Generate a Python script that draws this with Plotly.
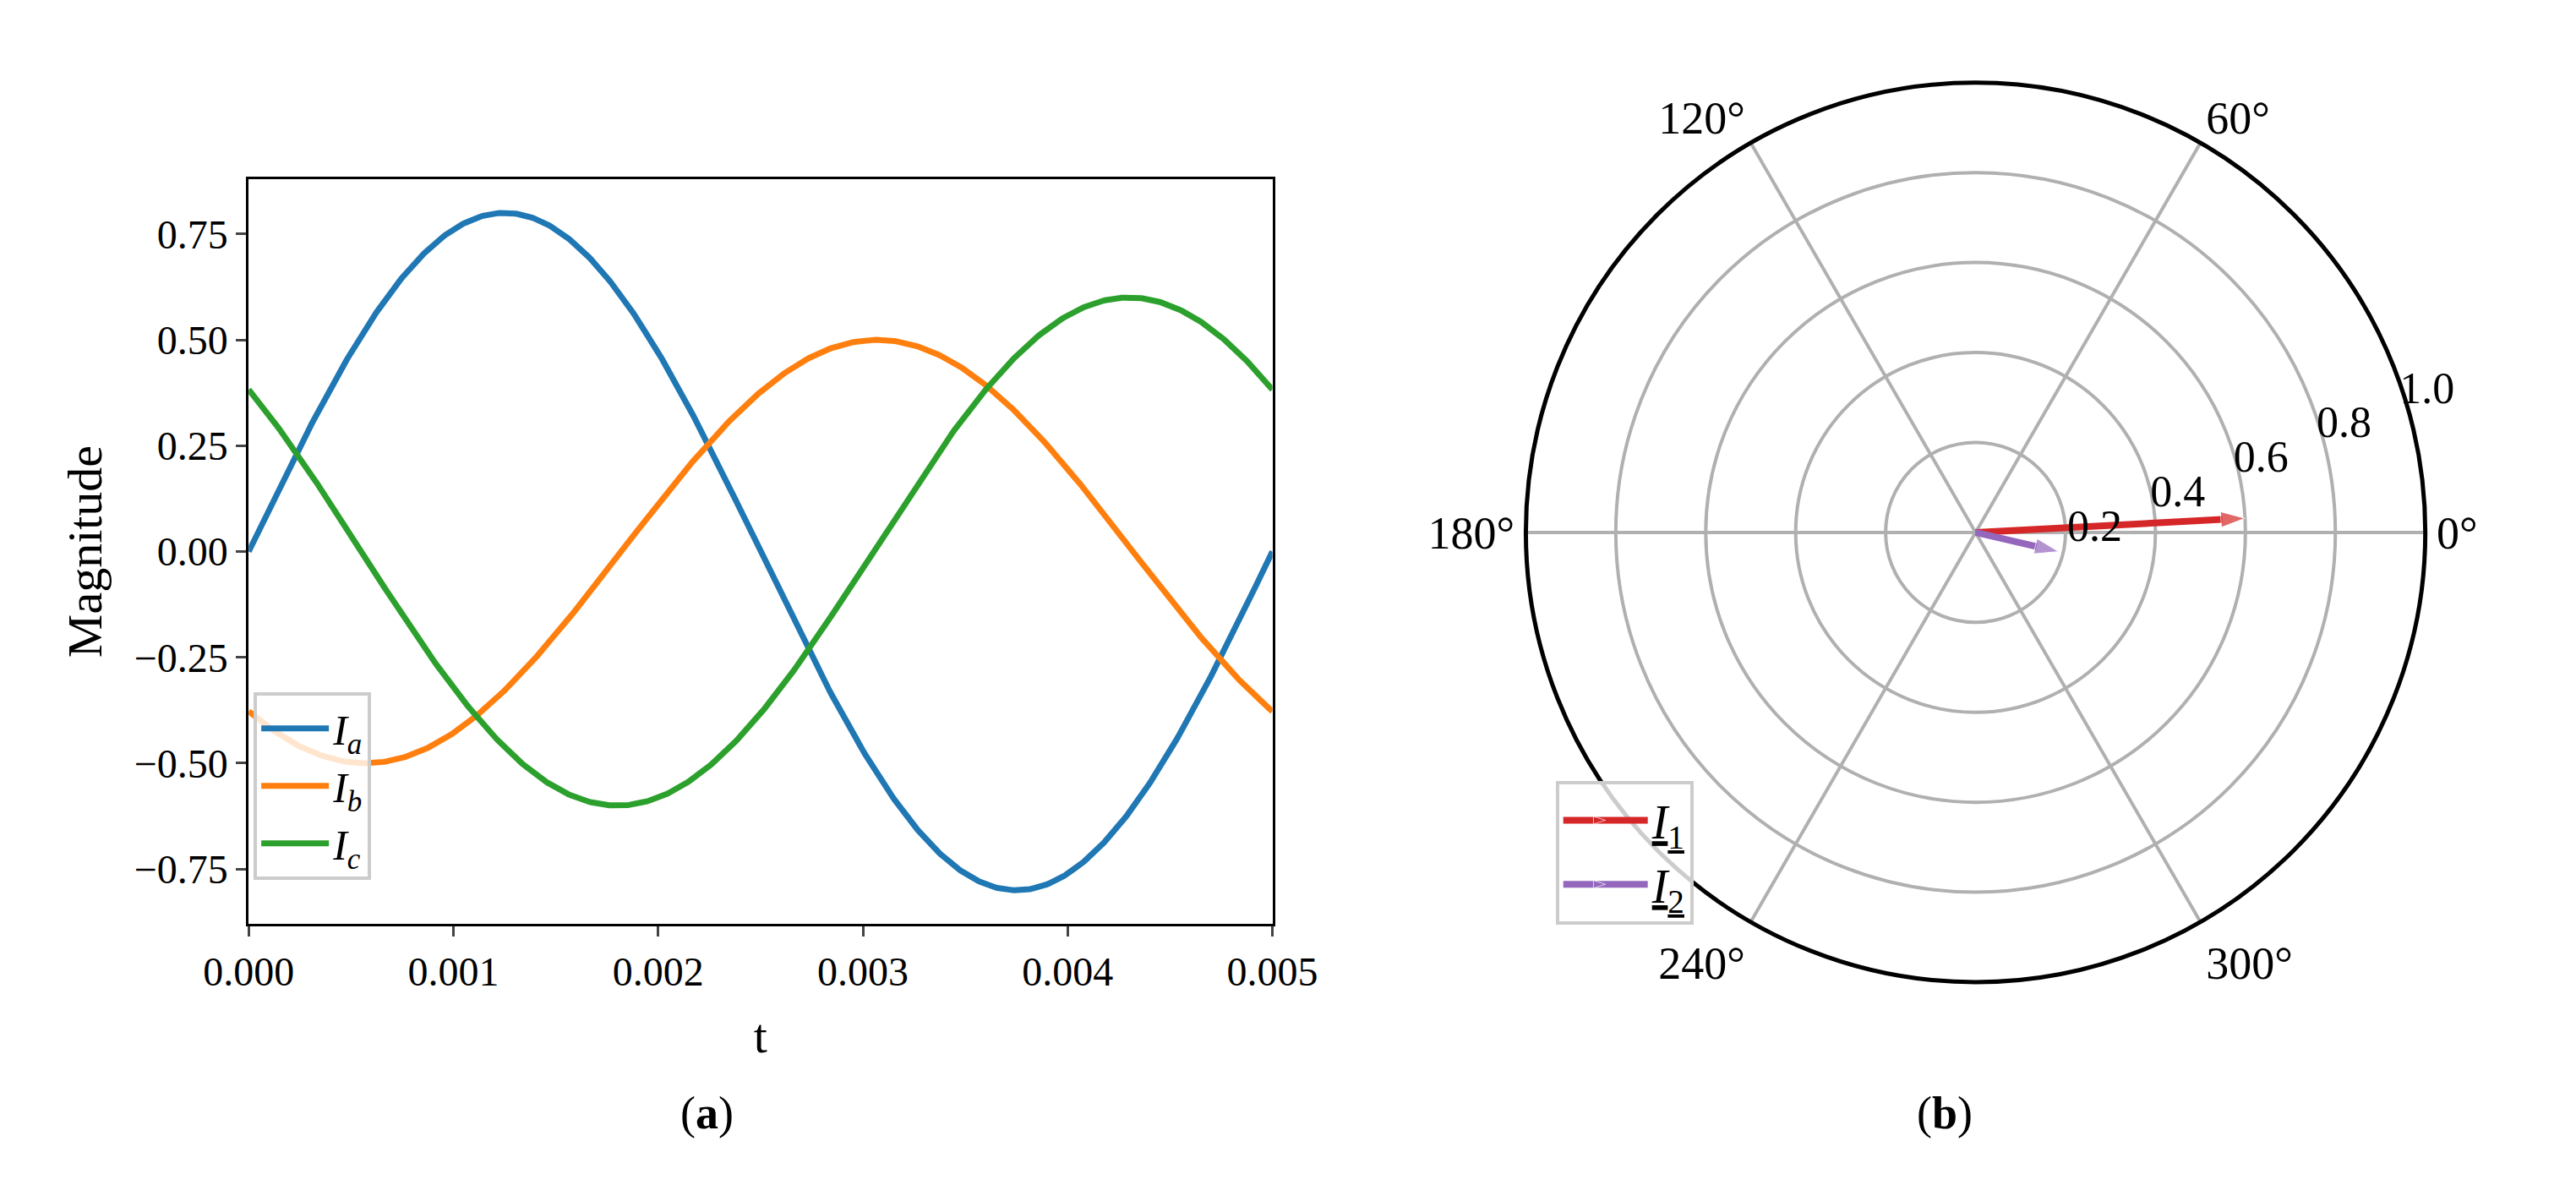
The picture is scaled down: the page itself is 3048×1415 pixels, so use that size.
import numpy as np
import plotly.graph_objects as go

# data
t_start, t_end = 0.0, 0.005
freq = 200.0
names = ["<i>I<sub>a</sub></i>", "<i>I<sub>b</sub></i>", "<i>I<sub>c</sub></i>"]
amplitudes = [0.8, 0.5, 0.6]
phases_deg = [-90.0, -221.0, -309.6]
colors = ["#1f77b4", "#ff7f0e", "#2ca02c"]

phasor_names = ['<span style="text-decoration:underline"><i>I</i><sub>1</sub></span>',
                '<span style="text-decoration:underline"><i>I</i><sub>2</sub></span>']
phasor_mag = [0.6, 0.19]
phasor_ang = [3.0, -13.0]
phasor_colors = ["#d62728", "#9467bd"]

t = np.linspace(t_start, t_end, 600)
FONT = "Liberation Serif"
fig = go.Figure()
for n, a, p, c in zip(names, amplitudes, phases_deg, colors):
    y = a * np.cos(2 * np.pi * freq * t + np.deg2rad(p))
    fig.add_trace(go.Scatter(x=t, y=y, mode="lines", name=n, line=dict(color=c, width=7), legend="legend"))

for n, m, a, c in zip(phasor_names, phasor_mag, phasor_ang, phasor_colors):
    fig.add_trace(go.Scatterpolar(r=[0, m], theta=[a, a], mode="lines+markers", name=n,
                                  line=dict(color=c, width=8),
                                  marker=dict(symbol="arrow", angleref="previous", size=[0, 30], color=c),
                                  legend="legend2", subplot="polar"))

grid = "#b0b0b0"
fig.update_layout(
    width=3048, height=1415, margin=dict(l=0, r=0, t=0, b=0),
    paper_bgcolor="white", plot_bgcolor="white",
    font=dict(family=FONT, size=48, color="black"),
    xaxis=dict(domain=[0.079, 0.491], range=[t_start, t_end], tickvals=[0, 0.001, 0.002, 0.003, 0.004, 0.005],
               tickformat=".3f", showgrid=False, zeroline=False, showline=True, mirror=True, linecolor="black",
               linewidth=3, ticks="outside", ticklen=12, tickwidth=3, title=dict(text="t", standoff=30)),
    yaxis=dict(domain=[0.233, 0.856], range=[-0.88, 0.88], tickvals=[-0.75, -0.5, -0.25, 0, 0.25, 0.5, 0.75],
               ticktext=["−0.75", "−0.50", "−0.25", "0.00", "0.25", "0.50", "0.75"],
               showgrid=False, zeroline=False, showline=True, mirror=True, linecolor="black",
               linewidth=3, ticks="outside", ticklen=12, tickwidth=3, title=dict(text="Magnitude", standoff=20)),
    legend=dict(x=0.081, y=0.427, xanchor="left", yanchor="top", bgcolor="rgba(255,255,255,0.8)",
                bordercolor="#cccccc", borderwidth=4, font=dict(size=50), itemwidth=80),
    legend2=dict(x=0.605, y=0.353, xanchor="left", yanchor="top", bgcolor="rgba(255,255,255,0.8)",
                 bordercolor="#cccccc", borderwidth=4, font=dict(size=56), itemwidth=100),
    polar=dict(domain=dict(x=[0.593, 0.955], y=[0.170, 0.951]), bgcolor="white",
               radialaxis=dict(range=[0, 1], tickvals=[0.2, 0.4, 0.6, 0.8, 1.0], ticktext=["0.2", "0.4", "0.6", "0.8", "1.0"],
                               angle=22.5, tickangle=22.5, showline=False, gridcolor=grid, gridwidth=4,
                               ticks="", tickfont=dict(size=52)),
               angularaxis=dict(tickvals=[0, 60, 120, 180, 240, 300], ticktext=["0°", "60°", "120°", "180°", "240°", "300°"],
                                gridcolor=grid, gridwidth=4, linecolor="black", linewidth=5, ticks="",
                                tickfont=dict(size=54), direction="counterclockwise", rotation=0)),
    annotations=[
        dict(text="(<b>a</b>)", x=768 / 3048, y=1 - 1341 / 1415, xref="paper", yref="paper", showarrow=False, font=dict(size=54)),
        dict(text="(<b>b</b>)", x=2358 / 3048, y=1 - 1341 / 1415, xref="paper", yref="paper", showarrow=False, font=dict(size=54)),
    ],
)
fig.write_html("out.html")
